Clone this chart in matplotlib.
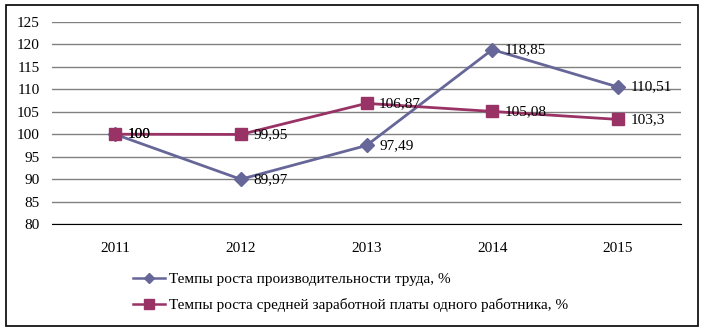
import matplotlib.pyplot as plt
from matplotlib.patches import Rectangle

plt.rcParams['font.family'] = ['Liberation Serif', 'DejaVu Serif']

years = ['2011', '2012', '2013', '2014', '2015']
productivity = [100, 89.97, 97.49, 118.85, 110.51]
wages = [100, 99.95, 106.87, 105.08, 103.3]
prod_labels = ['100', '89,97', '97,49', '118,85', '110,51']
wage_labels = ['100', '99,95', '106,87', '105,08', '103,3']

c1 = '#666699'
c2 = '#993366'
fs = 11

fig = plt.figure(figsize=(7.04, 3.31), dpi=100)
fig.patches.append(Rectangle((6 / 704, 5 / 331), 692 / 704, 321 / 331,
                             transform=fig.transFigure, fill=False,
                             edgecolor='black', linewidth=1.2))
ax = fig.add_axes([52 / 704, 1 - 224 / 331, 629 / 704, 202 / 331])

x = range(len(years))
ax.plot(x, productivity, color=c1, lw=2, marker='D', ms=7,
        label='Темпы роста производительности труда, %', zorder=3)
ax.plot(x, wages, color=c2, lw=2, marker='s', ms=8.5,
        label='Темпы роста средней заработной платы одного работника, %', zorder=4)

for i in x:
    ax.annotate(prod_labels[i], (i, productivity[i]), xytext=(9, 0),
                textcoords='offset points', va='center', fontsize=fs, zorder=5)
    ax.annotate(wage_labels[i], (i, wages[i]), xytext=(9, 0),
                textcoords='offset points', va='center', fontsize=fs, zorder=5)

ax.set_xlim(-0.5, 4.5)
ax.set_ylim(80, 125)
ax.set_yticks(range(80, 126, 5))
ax.set_xticks(list(x))
ax.set_xticklabels(years)
ax.tick_params(length=0, labelsize=fs)
ax.tick_params(axis='x', pad=13)
ax.tick_params(axis='y', pad=9)
ax.grid(axis='y', color='#808080', lw=1)
for s in ['left', 'right', 'top']:
    ax.spines[s].set_visible(False)
ax.spines['bottom'].set_color('black')

leg = ax.legend(loc='upper left', bbox_to_anchor=(119 / 704, 1 - 259 / 331),
                bbox_transform=fig.transFigure, frameon=False, fontsize=fs,
                handlelength=2.1, handletextpad=0.3, labelspacing=0.75,
                markerscale=0.8)
for h in leg.legend_handles:
    h.set_linewidth(1.8)

fig.savefig('out.png', dpi=100)
